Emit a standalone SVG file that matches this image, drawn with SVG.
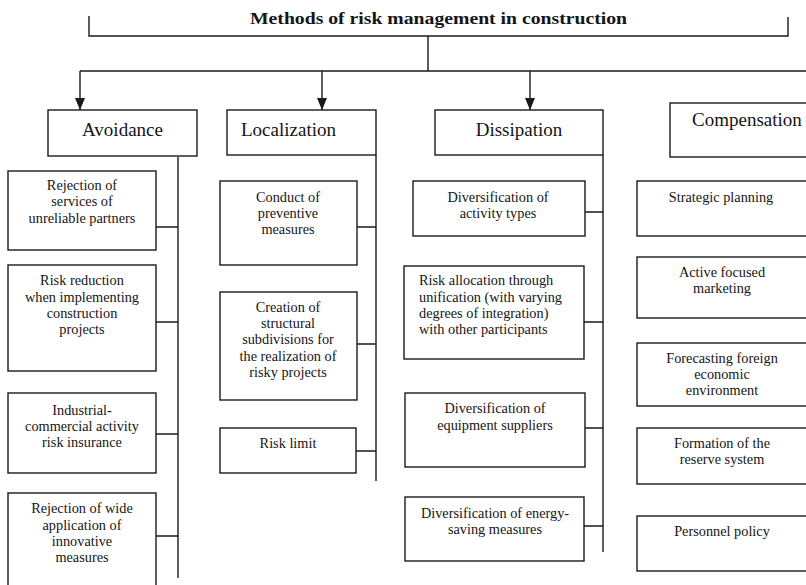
<svg xmlns="http://www.w3.org/2000/svg" width="806" height="585" viewBox="0 0 806 585">
<defs>
<marker id="arr" markerWidth="12" markerHeight="10" refX="12" refY="5" orient="auto" markerUnits="userSpaceOnUse" viewBox="0 0 12 10">
<path d="M0,0 L12,5 L0,10 Z" fill="#1a1a1a"/>
</marker>
</defs>
<style>
.b{fill:#fff;stroke:#1a1a1a;stroke-width:1.4}
.l{fill:none;stroke:#1a1a1a;stroke-width:1.4}
.t{font-family:"Liberation Serif","Times New Roman",serif;font-size:14.3px;fill:#151515;text-anchor:middle}
.h{font-family:"Liberation Serif","Times New Roman",serif;font-size:19px;fill:#151515;text-anchor:middle}
.title{font-family:"Liberation Serif","Times New Roman",serif;font-size:17px;font-weight:bold;fill:#151515;text-anchor:middle}
.s{text-anchor:start}
</style>
<rect width="806" height="585" fill="#fff"/>
<text class="title" x="438.5" y="24" textLength="377" lengthAdjust="spacingAndGlyphs">Methods of risk management in construction</text>
<g id="connectors">
<path class="l" d="M89,16 V36 H788 V17"/>
<path class="l" d="M428,36 V71"/>
<path class="l" d="M80,71 H806"/>
<path class="l" d="M80,71 V110" marker-end="url(#arr)"/>
<path class="l" d="M322,71 V110" marker-end="url(#arr)"/>
<path class="l" d="M530,71 V110" marker-end="url(#arr)"/>
<path class="l" d="M178,157 V578"/>
<path class="l" d="M156,227 H178 M156,322 H178 M156,434 H178 M156,536 H178"/>
<path class="l" d="M376,155 V481"/>
<path class="l" d="M357,227 H376 M357,344 H376 M356,451 H376"/>
<path class="l" d="M603,155 V552"/>
<path class="l" d="M585,212 H603 M584,322 H603 M585,428 H603 M584,526 H603"/>
</g>
<g id="avoidance"><rect class="b" x="48" y="110" width="149" height="46"/><text class="h" x="122.5" y="136">Avoidance</text></g>
<g id="localization"><rect class="b" x="227" y="110" width="149" height="45"/><text class="h s" x="241" y="136">Localization</text></g>
<g id="dissipation"><rect class="b" x="435" y="110" width="168" height="45"/><text class="h" x="519" y="136">Dissipation</text></g>
<g id="compensation"><rect class="b" x="670" y="103" width="150" height="54"/><text class="h s" x="692" y="126">Compensation</text></g>

<g id="av1"><rect class="b" x="8" y="171" width="148" height="79"/><text class="t" x="82" y="190">Rejection of</text><text class="t" x="82" y="206">services of</text><text class="t" x="82" y="223">unreliable partners</text></g>
<g id="av2"><rect class="b" x="8" y="265" width="148" height="106"/><text class="t" x="82" y="285">Risk reduction</text><text class="t" x="82" y="302">when implementing</text><text class="t" x="82" y="318">construction</text><text class="t" x="82" y="334">projects</text></g>
<g id="av3"><rect class="b" x="8" y="393" width="148" height="80"/><text class="t" x="82" y="415">Industrial-</text><text class="t" x="82" y="431">commercial activity</text><text class="t" x="82" y="447">risk insurance</text></g>
<g id="av4"><rect class="b" x="8" y="493" width="148" height="100"/><text class="t" x="82" y="513">Rejection of wide</text><text class="t" x="82" y="530">application of</text><text class="t" x="82" y="546">innovative</text><text class="t" x="82" y="562">measures</text></g>

<g id="lo1"><rect class="b" x="220" y="181" width="137" height="84"/><text class="t" x="288" y="202">Conduct of</text><text class="t" x="288" y="218">preventive</text><text class="t" x="288" y="234">measures</text></g>
<g id="lo2"><rect class="b" x="220" y="292" width="137" height="108"/><text class="t" x="288" y="312">Creation of</text><text class="t" x="288" y="328">structural</text><text class="t" x="288" y="344">subdivisions for</text><text class="t" x="288" y="361">the realization of</text><text class="t" x="288" y="377">risky projects</text></g>
<g id="lo3"><rect class="b" x="220" y="428" width="136" height="45"/><text class="t" x="288" y="448">Risk limit</text></g>

<g id="di1"><rect class="b" x="413" y="181" width="172" height="55"/><text class="t" x="498" y="202">Diversification of</text><text class="t" x="498" y="218">activity types</text></g>
<g id="di2"><rect class="b" x="404" y="266" width="180" height="93"/><text class="t s" x="419" y="285">Risk allocation through</text><text class="t s" x="419" y="302">unification (with varying</text><text class="t s" x="419" y="318">degrees of integration)</text><text class="t s" x="419" y="334">with other participants</text></g>
<g id="di3"><rect class="b" x="405" y="393" width="180" height="74"/><text class="t" x="495" y="413">Diversification of</text><text class="t" x="495" y="430">equipment suppliers</text></g>
<g id="di4"><rect class="b" x="405" y="497" width="179" height="64"/><text class="t" x="495" y="518">Diversification of energy-</text><text class="t" x="495" y="534">saving measures</text></g>

<g id="co1"><rect class="b" x="637" y="181" width="180" height="55"/><text class="t" x="721" y="202">Strategic planning</text></g>
<g id="co2"><rect class="b" x="637" y="257" width="180" height="61"/><text class="t" x="722" y="277">Active focused</text><text class="t" x="722" y="293">marketing</text></g>
<g id="co3"><rect class="b" x="637" y="343" width="180" height="63"/><text class="t" x="722" y="363">Forecasting foreign</text><text class="t" x="722" y="379">economic</text><text class="t" x="722" y="395">environment</text></g>
<g id="co4"><rect class="b" x="637" y="428" width="180" height="56"/><text class="t" x="722" y="448">Formation of the</text><text class="t" x="722" y="464">reserve system</text></g>
<g id="co5"><rect class="b" x="637" y="516" width="180" height="55"/><text class="t" x="722" y="536">Personnel policy</text></g>
</svg>
